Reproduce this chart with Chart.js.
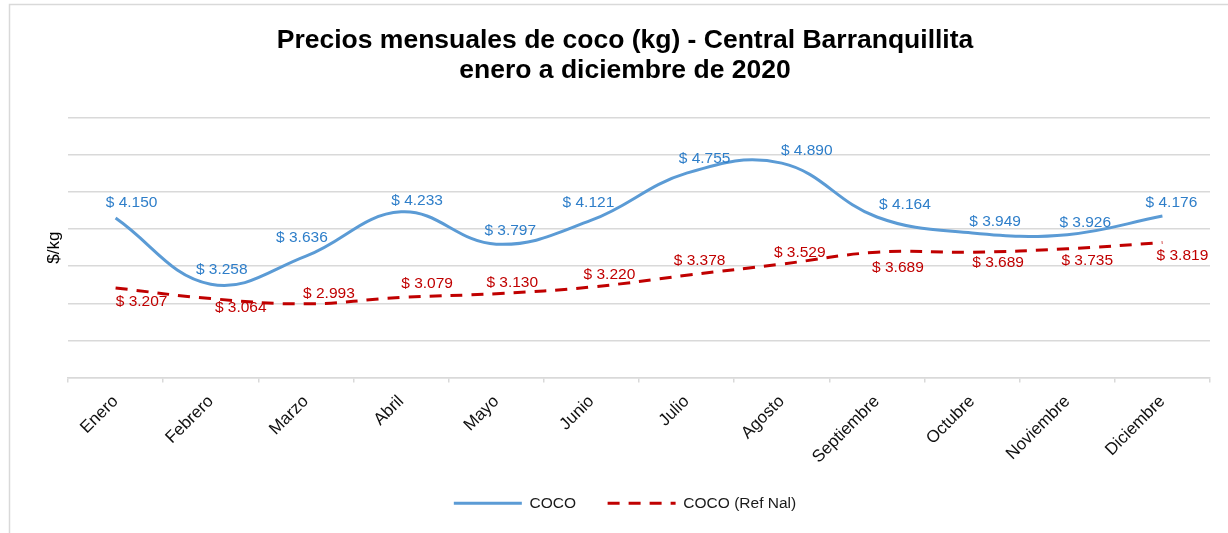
<!DOCTYPE html>
<html lang="es">
<head>
<meta charset="utf-8">
<title>Precios mensuales de coco (kg) - Central Barranquillita</title>
<script src="https://cdn.jsdelivr.net/npm/chart.js@4.4.1/dist/chart.umd.min.js"></script>
<style>
    html, body { margin: 0; padding: 0; background: #ffffff; }
    #grafico { display: block; }
</style>
</head>
<body>
<canvas id="grafico" width="1228" height="533"></canvas>
<script>
// Datos del gráfico
const meses = ['Enero', 'Febrero', 'Marzo', 'Abril', 'Mayo', 'Junio', 'Julio', 'Agosto', 'Septiembre', 'Octubre', 'Noviembre', 'Diciembre'];
const precioCoco = [4150, 3258, 3636, 4233, 3797, 4121, 4755, 4890, 4164, 3949, 3926, 4176];
const precioRefNal = [3207, 3064, 2993, 3079, 3130, 3220, 3378, 3529, 3689, 3689, 3735, 3819];
const ejeYMin = 2000;
const ejeYMax = 5500;
const ejeYPaso = 500;

// Desplazamiento de cada etiqueta respecto a su punto [dx, dy]
const posEtiquetasCoco = [[16, -15], [11, -14], [-4, -18], [16, -11], [14, -13], [-3, -17], [18, -14], [25, -12], [28, -12], [23, -11], [18, -12], [9, -13]];
const posEtiquetasRef = [[26, 14], [30, 9], [23, -10], [26, -14], [16, -11], [18, -12], [13, -15], [18, -11], [21, 15], [26, 10], [20, 12], [20, 13]];

const FUENTE = '"Liberation Sans", Arial, Helvetica, sans-serif';

document.addEventListener('DOMContentLoaded', function() {
    // Formato de pesos con punto de miles
    function formatoPesos(valor) {
        return '$ ' + String(valor).replace(/\B(?=(\d{3})+(?!\d))/g, '.');
    }

    // Fondo blanco y marco gris
    const marcoPlugin = {
        id: 'marco',
        beforeDraw(chart) {
            const ctx = chart.ctx;
            ctx.save();
            ctx.fillStyle = '#ffffff';
            ctx.fillRect(0, 0, chart.width, chart.height);
            ctx.strokeStyle = '#d9d9d9';
            ctx.lineWidth = 1.5;
            ctx.strokeRect(9.5, 4.5, chart.width + 50, chart.height + 50);
            ctx.restore();
        }
    };

    // Etiquetas de valores
    const etiquetasPlugin = {
        id: 'etiquetas',
        afterDatasetsDraw(chart) {
            const ctx = chart.ctx;
            ctx.save();
            ctx.font = '15.5px ' + FUENTE;
            ctx.textAlign = 'center';
            ctx.textBaseline = 'middle';
            chart.data.datasets.forEach(function(ds, i) {
                const meta = chart.getDatasetMeta(i);
                ctx.fillStyle = ds.colorEtiqueta;
                meta.data.forEach(function(punto, j) {
                    const off = ds.posEtiquetas[j];
                    ctx.fillText(formatoPesos(ds.data[j]), punto.x + off[0], punto.y + off[1]);
                });
            });
            ctx.restore();
        }
    };

    const ctx = document.getElementById('grafico').getContext('2d');
    new Chart(ctx, {
        type: 'line',
        data: {
            labels: meses,
            datasets: [{
                label: 'COCO',
                data: precioCoco,
                borderColor: '#5B9BD5',
                backgroundColor: '#5B9BD5',
                borderWidth: 3,
                tension: 0.4,
                pointRadius: 0,
                pointHoverRadius: 0,
                pointStyle: 'line',
                fill: false,
                colorEtiqueta: '#2E7EC9',
                posEtiquetas: posEtiquetasCoco
            }, {
                label: 'COCO (Ref Nal)',
                data: precioRefNal,
                borderColor: '#C00000',
                backgroundColor: '#C00000',
                borderWidth: 3,
                borderDash: [12, 9],
                tension: 0.4,
                pointRadius: 0,
                pointHoverRadius: 0,
                pointStyle: 'line',
                fill: false,
                colorEtiqueta: '#C00000',
                posEtiquetas: posEtiquetasRef
            }]
        },
        options: {
            responsive: false,
            animation: false,
            devicePixelRatio: 1,
            layout: {
                padding: { left: 40, right: 18, top: 0, bottom: 12 }
            },
            plugins: {
                title: {
                    display: true,
                    text: ['Precios mensuales de coco (kg) - Central Barranquillita', 'enero a diciembre de 2020'],
                    color: '#000000',
                    font: { family: FUENTE, size: 26.5, weight: 'bold', lineHeight: 1.13 },
                    padding: { top: 26, bottom: 32 }
                },
                legend: {
                    position: 'bottom',
                    labels: {
                        usePointStyle: true,
                        pointStyle: 'line',
                        pointStyleWidth: 68,
                        padding: 10,
                        color: '#1a1a1a',
                        font: { family: FUENTE, size: 15.5 },
                        generateLabels: function(chart) {
                            const items = Chart.defaults.plugins.legend.labels.generateLabels(chart);
                            items.forEach(function(item, i) {
                                const ds = chart.data.datasets[item.datasetIndex];
                                item.lineDash = ds.borderDash || [];
                                item.lineWidth = ds.borderWidth;
                                item.strokeStyle = ds.borderColor;
                                if (i < items.length - 1) item.text = item.text + '     ';
                            });
                            return items;
                        }
                    }
                },
                tooltip: { enabled: false }
            },
            scales: {
                x: {
                    type: 'category',
                    offset: true,
                    grid: {
                        offset: true,
                        drawOnChartArea: false,
                        drawTicks: true,
                        tickLength: 5,
                        color: '#d9d9d9',
                        lineWidth: 1.5
                    },
                    border: { display: true, color: '#d9d9d9', width: 1.5 },
                    ticks: {
                        color: '#111111',
                        font: { family: FUENTE, size: 17 },
                        minRotation: 45,
                        maxRotation: 45,
                        padding: 9,
                        autoSkip: false
                    },
                    afterFit: function(scale) {
                        scale.height = 108;
                    }
                },
                y: {
                    min: ejeYMin,
                    max: ejeYMax,
                    ticks: { display: false, stepSize: ejeYPaso },
                    grid: {
                        color: '#d9d9d9',
                        lineWidth: 1.5,
                        drawTicks: false
                    },
                    border: { display: false },
                    title: {
                        display: true,
                        text: '$/kg',
                        color: '#000000',
                        font: { family: FUENTE, size: 17 },
                        padding: { top: 4, bottom: 0 }
                    },
                    afterFit: function(scale) {
                        scale.width = 28;
                    }
                }
            }
        },
        plugins: [marcoPlugin, etiquetasPlugin]
    });
});
</script>
</body>
</html>
